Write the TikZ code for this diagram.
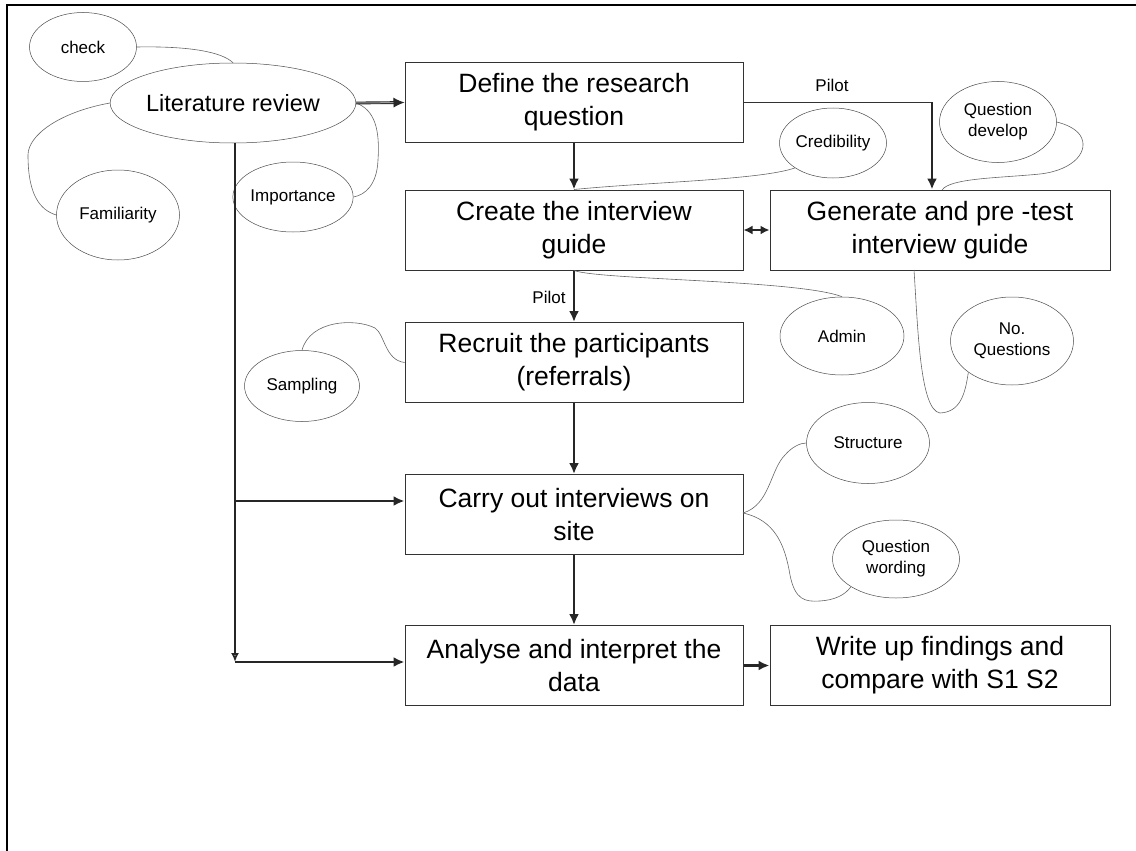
\documentclass[tikz,border=0pt]{standalone}
\usepackage{fontspec}
\setmainfont{Liberation Sans}
\usetikzlibrary{shapes.geometric,arrows.meta}

\tikzset{
  stage/.style={draw=black!80, line width=1pt, minimum width=338pt, minimum height=80pt,
    inner sep=2pt, align=center, font=\fontsize{26.5}{33}\selectfont},
  bubble/.style={draw=black!70, line width=0.5pt, ellipse, inner sep=0pt, align=center,
    font=\fontsize{17}{21}\selectfont},
  flow/.style={line width=2.6pt, black!85, -{Latex[length=11pt,width=10pt]}},
  link/.style={black!60, line width=0.6pt},
  tag/.style={font=\fontsize{17}{21}\selectfont},
}

\begin{document}
\begin{tikzpicture}[x=1pt, y=-1pt]
        \useasboundingbox (0,0) rectangle (1136,851);
        \draw[line width=2.5pt] (7,851) -- (7,5) -- (1136,5);

        % main stages
        \node[stage] (define) at (574,102.5) {Define the research\\question};
        \node[stage] (create) at (574,230) {Create the interview\\guide};
        \node[stage, minimum width=340pt] (generate) at (940,230) {Generate and pre -test\\interview guide};
        \node[stage] (recruit) at (574,362.5) {Recruit the participants\\(referrals)};
        \node[stage] (carry) at (574,514.5) {Carry out interviews on\\site};
        \node[stage] (analyse) at (574,665.5) {Analyse and interpret the\\data};
        \node[stage, minimum width=340pt] (write) at (940,665.5) {Write up findings and\\compare with S1 S2};

        % bubbles
        \node[bubble, minimum width=238pt, minimum height=80pt, font=\fontsize{23.5}{28}\selectfont] (lit) at (233,103) {Literature review};
        \node[bubble, minimum width=107pt, minimum height=69pt] (check) at (83,47) {check};
        \node[bubble, minimum width=123pt, minimum height=90pt] (famil) at (118,215) {Familiarity};
        \node[bubble, minimum width=113pt, minimum height=70pt] (import) at (293,197) {Importance};
        \node[bubble, minimum width=107pt, minimum height=70pt] (cred) at (833,143) {Credibility};
        \node[bubble, minimum width=117pt, minimum height=81pt] (qdev) at (998,122) {Question\\develop};
        \node[bubble, minimum width=124pt, minimum height=78pt] (admin) at (842,336) {Admin};
        \node[bubble, minimum width=123pt, minimum height=88pt] (noq) at (1012,341) {No.\\Questions};
        \node[bubble, minimum width=115pt, minimum height=71pt] (sampl) at (302,386) {Sampling};
        \node[bubble, minimum width=123pt, minimum height=81pt] (struct) at (868,443) {Structure};
        \node[bubble, minimum width=127pt, minimum height=78pt] (qword) at (896,559) {Question\\wording};

        % thin links to the bubbles
        \draw[link] (check.east) .. controls (190,46) and (222,52) .. (lit.north);
        \draw[link] (lit.west) .. controls (60,112) and (28,135) .. (28,155) .. controls (28,195) and (40,210) .. (famil.west);
        \draw[link] (lit.east) .. controls (375,110) and (380,130) .. (378,160) .. controls (377,185) and (365,195) .. (import.east);
        \draw[link] (create.north) .. controls (650,182) and (760,180) .. (cred.south west);
        \draw[link] (942,190) .. controls (950,178) and (1000,178) .. (1040,174) .. controls (1075,170) and (1090,150) .. (1080,135) .. controls (1075,128) and (1065,124) .. (qdev.east);
        \draw[link] (create.south) .. controls (600,280) and (800,280) .. (admin.north);
        \draw[link] (914,270) .. controls (918,330) and (920,410) .. (940,413) .. controls (960,412) and (965,395) .. (noq.south west);
        \draw[link] (recruit.west) .. controls (385,360) and (385,335) .. (375,328) .. controls (355,318) and (310,320) .. (sampl.north);
        \coordinate (fork) at (743,513);
        \draw[link] (fork) .. controls (770,505) and (770,470) .. (785,455) .. controls (792,447) and (800,443) .. (struct.west);
        \draw[link] (fork) .. controls (775,520) and (785,545) .. (790,575) .. controls (795,600) and (805,602) .. (820,601) .. controls (835,600) and (845,595) .. (qword.south west);

        % flow arrows
        \draw[flow, double=black!40, double distance=1pt, line width=0.9pt] (lit.east) -- (define.west);
        \draw[flow] (define) -- (create);
        \coordinate (pilotturn) at (932,102.5);
        \draw[black!80, line width=1pt] (define.east) -- (pilotturn);
        \node[tag] (pilotA) at (832,85) {Pilot};
        \draw[flow] (pilotturn) -- (pilotturn |- generate.north);
        \draw[line width=2.6pt, black!85, {Latex[length=9pt,width=9pt]}-{Latex[length=9pt,width=9pt]}] (create.east) -- (generate.west);
        \draw[flow] (create) -- (recruit);
        \node[tag] (pilotB) at (549,297) {Pilot};
        \draw[flow] (recruit) -- (carry);
        \draw[flow] (carry) -- (analyse);
        \draw[flow] (analyse) -- (write);

        % literature feeds the later stages
        \coordinate (split) at (235,501);
        \coordinate (bend) at (235,662);
        \draw[flow, -{Latex[open,length=9pt,width=8pt]}] (lit.south -| bend) -- (bend);
        \draw[flow] (split) -- (split -| carry.west);
        \draw[flow] (bend) -- (bend -| analyse.west);
\end{tikzpicture}
\end{document}
